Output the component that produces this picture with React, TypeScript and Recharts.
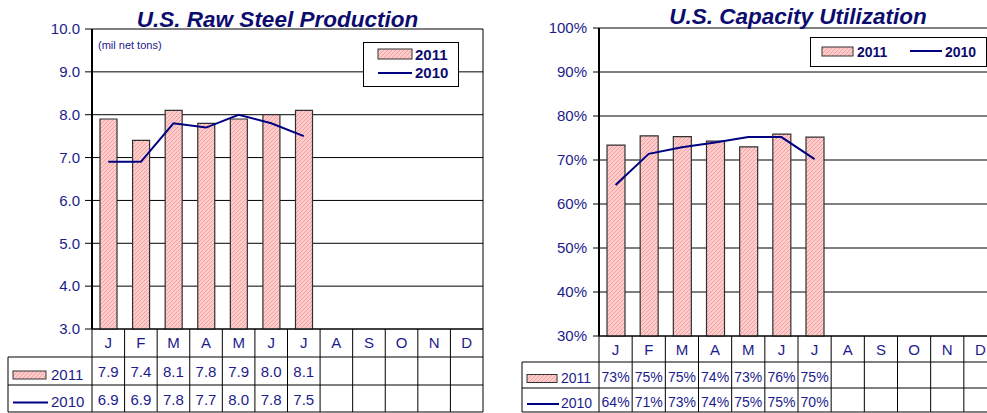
import React from 'react';
import { ComposedChart, Bar, Line, XAxis, YAxis, CartesianGrid, Legend } from 'recharts';

const months = ['J', 'F', 'M', 'A', 'M', 'J', 'J', 'A', 'S', 'O', 'N', 'D'];

const steel2011 = [7.9, 7.4, 8.1, 7.8, 7.9, 8.0, 8.1];
const steel2010 = [6.9, 6.9, 7.8, 7.7, 8.0, 7.8, 7.5];
const steelTicks = [3, 4, 5, 6, 7, 8, 9, 10];

const util2011 = [73.4, 75.5, 75.3, 74.3, 73.0, 75.9, 75.2];
const util2010 = [64.3, 71.4, 72.9, 74.0, 75.2, 75.2, 70.2];
const util2011Labels = ['73%', '75%', '75%', '74%', '73%', '76%', '75%'];
const util2010Labels = ['64%', '71%', '73%', '74%', '75%', '75%', '70%'];
const utilTicks = [30, 40, 50, 60, 70, 80, 90, 100];

const seriesNames = ['2011', '2010'];

const NAVY = '#1c1c8c';
const DARK_NAVY = '#0c0c6e';
const LINE = '#000080';
const FONT = 'Arial, "Liberation Sans", sans-serif';

const steelData = months.map((m, i) => ({
  idx: i,
  a: i < steel2011.length ? steel2011[i] : null,
  b: i < steel2010.length ? steel2010[i] : null,
}));
const utilData = months.map((m, i) => ({
  idx: i,
  a: i < util2011.length ? util2011[i] : null,
  b: i < util2010.length ? util2010[i] : null,
}));

type TableCfg = {
  colW: number;
  top: number;
  h: number[];
  legendLeft: number;
  row1: (string | null)[];
  row2: (string | null)[];
  textY: number[];
  legendY: number[];
  monthFont: number;
  valueFont: number;
  labelFont: number;
  swatch: { x: number; w: number; h: number; textX: number };
};

function makeTableTick(cfg: TableCfg) {
  return (props: any) => {
    const { x, payload } = props;
    const i = Number(payload.value);
    const w = cfg.colW;
    const x0 = x - w / 2;
    const x1 = x + w / 2;
    const t = cfg.top;
    const r1 = t + cfg.h[0];
    const r2 = r1 + cfg.h[1];
    const b = r2 + cfg.h[2];
    const ln = { stroke: '#000', strokeWidth: 1 };
    const txt = { fill: NAVY, fontFamily: FONT, textAnchor: 'middle' as const, dominantBaseline: 'central' as const };
    return (
      <g>
        {i === 0 && (
          <g>
            <line x1={cfg.legendLeft} x2={x0} y1={r1} y2={r1} {...ln} />
            <line x1={cfg.legendLeft} x2={x0} y1={r2} y2={r2} {...ln} />
            <line x1={cfg.legendLeft} x2={x0} y1={b} y2={b} {...ln} />
            <line x1={cfg.legendLeft} x2={cfg.legendLeft} y1={r1} y2={b} {...ln} />
            <rect
              x={cfg.legendLeft + cfg.swatch.x}
              y={cfg.legendY[0] - cfg.swatch.h / 2 + 1}
              width={cfg.swatch.w}
              height={cfg.swatch.h}
              fill="url(#pinkHatch)"
              stroke="#333"
              strokeWidth={1}
            />
            <text x={cfg.legendLeft + cfg.swatch.textX} y={cfg.legendY[0]} fill={NAVY} fontFamily={FONT} fontSize={cfg.labelFont} dominantBaseline="central">
              {seriesNames[0]}
            </text>
            <line
              x1={cfg.legendLeft + cfg.swatch.x}
              x2={cfg.legendLeft + cfg.swatch.x + cfg.swatch.w + 2}
              y1={cfg.legendY[1] + 1}
              y2={cfg.legendY[1] + 1}
              stroke={LINE}
              strokeWidth={2}
            />
            <text x={cfg.legendLeft + cfg.swatch.textX} y={cfg.legendY[1]} fill={NAVY} fontFamily={FONT} fontSize={cfg.labelFont} dominantBaseline="central">
              {seriesNames[1]}
            </text>
          </g>
        )}
        <line x1={x0} x2={x1} y1={r1} y2={r1} {...ln} />
        <line x1={x0} x2={x1} y1={r2} y2={r2} {...ln} />
        <line x1={x0} x2={x1} y1={b} y2={b} {...ln} />
        <line x1={x0} x2={x0} y1={t} y2={b} {...ln} />
        {i === months.length - 1 && <line x1={x1} x2={x1} y1={t} y2={b} {...ln} />}
        <text x={x} y={cfg.textY[0]} fontSize={cfg.monthFont} {...txt}>
          {months[i]}
        </text>
        {cfg.row1[i] != null && (
          <text x={x} y={cfg.textY[1]} fontSize={cfg.valueFont} {...txt}>
            {cfg.row1[i]}
          </text>
        )}
        {cfg.row2[i] != null && (
          <text x={x} y={cfg.textY[2]} fontSize={cfg.valueFont} {...txt}>
            {cfg.row2[i]}
          </text>
        )}
      </g>
    );
  };
}

const steelTick = makeTableTick({
  colW: 391 / 12,
  top: 329,
  h: [28, 28, 27],
  legendLeft: 8,
  row1: months.map((_, i) => (i < steel2011.length ? steel2011[i].toFixed(1) : null)),
  row2: months.map((_, i) => (i < steel2010.length ? steel2010[i].toFixed(1) : null)),
  textY: [342.5, 371.5, 399.5],
  legendY: [374, 401.5],
  monthFont: 15,
  valueFont: 15,
  labelFont: 15,
  swatch: { x: 5, w: 33, h: 8, textX: 43 },
});

const utilTick = makeTableTick({
  colW: 398 / 12,
  top: 336,
  h: [26, 26, 24],
  legendLeft: 32,
  row1: months.map((_, i) => (i < util2011Labels.length ? util2011Labels[i] : null)),
  row2: months.map((_, i) => (i < util2010Labels.length ? util2010Labels[i] : null)),
  textY: [349, 376.5, 402],
  legendY: [377.5, 403],
  monthFont: 15,
  valueFont: 14,
  labelFont: 14,
  swatch: { x: 5, w: 30, h: 8, textX: 39 },
});

const SteelLegend = () => (
  <svg width={96} height={45} style={{ display: 'block' }}>
    <rect x={0.5} y={0.5} width={95} height={44} fill="#fff" stroke="#000" strokeWidth={1} />
    <rect x={15} y={7} width={34} height={10} fill="url(#pinkHatch)" stroke="#333" strokeWidth={1} />
    <text x={52} y={18} fill={DARK_NAVY} fontFamily={FONT} fontWeight="bold" fontSize={15}>
      {seriesNames[0]}
    </text>
    <line x1={15} x2={49} y1={31} y2={31} stroke={LINE} strokeWidth={2} />
    <text x={52} y={35.5} fill={DARK_NAVY} fontFamily={FONT} fontWeight="bold" fontSize={15}>
      {seriesNames[1]}
    </text>
  </svg>
);

const UtilLegend = () => (
  <svg width={177} height={30} style={{ display: 'block' }}>
    <rect x={0.5} y={0.5} width={176} height={29} fill="#fff" stroke="#000" strokeWidth={1} />
    <rect x={12} y={10} width={31} height={9} fill="url(#pinkHatch)" stroke="#333" strokeWidth={1} />
    <text x={47} y={19.5} fill={DARK_NAVY} fontFamily={FONT} fontWeight="bold" fontSize={14}>
      {seriesNames[0]}
    </text>
    <line x1={100} x2={132} y1={14} y2={14} stroke={LINE} strokeWidth={2} />
    <text x={135} y={19.5} fill={DARK_NAVY} fontFamily={FONT} fontWeight="bold" fontSize={14}>
      {seriesNames[1]}
    </text>
  </svg>
);

export default function App() {
  return (
    <div style={{ position: 'absolute', left: 0, top: 0, width: 987, height: 413, overflow: 'hidden', background: '#fff' }}>
      <svg width={0} height={0} style={{ position: 'absolute' }}>
        <defs>
          <pattern id="pinkHatch" width={4} height={4} patternUnits="userSpaceOnUse">
            <rect x={0} y={0} width={4} height={4} fill="#ffcccc" />
            <rect x={0} y={0} width={1} height={1} fill="#f0a0a0" />
            <rect x={1} y={3} width={1} height={1} fill="#f0a0a0" />
            <rect x={2} y={2} width={1} height={1} fill="#f0a0a0" />
            <rect x={3} y={1} width={1} height={1} fill="#f0a0a0" />
          </pattern>
        </defs>
      </svg>

      <div style={{ position: 'absolute', left: 0, top: 0 }}>
        <ComposedChart width={487} height={413} data={steelData} margin={{ top: 29, right: 3, bottom: 0, left: 0 }}>
          <CartesianGrid vertical={false} stroke="#000" />
          <XAxis
            dataKey="idx"
            type="category"
            height={84}
            interval={0}
            tickLine={false}
            axisLine={{ stroke: '#000', strokeWidth: 1 }}
            tick={steelTick}
          />
          <YAxis
            width={92}
            domain={[3, 10]}
            ticks={steelTicks}
            interval={0}
            tickFormatter={(v: number) => v.toFixed(1)}
            tick={{ fill: NAVY, fontSize: 15, fontFamily: FONT }}
            tickSize={7}
            tickMargin={5}
            tickLine={{ stroke: '#000' }}
            axisLine={{ stroke: '#000', strokeWidth: 2 }}
          />
          <YAxis yAxisId="r" orientation="right" width={1} domain={[0, 1]} tick={false} tickLine={false} axisLine={{ stroke: '#000' }} />
          <Legend layout="horizontal" verticalAlign="middle" align="center" content={SteelLegend} wrapperStyle={{ position: 'absolute', left: 363, top: 42, width: 96, height: 45 }} />
          <Bar dataKey="a" fill="url(#pinkHatch)" stroke="#303030" strokeWidth={1.2} barSize={17} isAnimationActive={false} />
          <Line dataKey="b" type="linear" stroke={LINE} strokeWidth={2} dot={false} activeDot={false} isAnimationActive={false} />
        </ComposedChart>
      </div>

      <div style={{ position: 'absolute', left: 490, top: 0 }}>
        <ComposedChart width={510} height={413} data={utilData} margin={{ top: 28, right: 2, bottom: 0, left: 0 }}>
          <CartesianGrid vertical={false} stroke="#000" />
          <XAxis
            dataKey="idx"
            type="category"
            height={77}
            interval={0}
            tickLine={false}
            axisLine={{ stroke: '#000', strokeWidth: 1 }}
            tick={utilTick}
          />
          <YAxis
            width={109}
            domain={[30, 100]}
            ticks={utilTicks}
            interval={0}
            tickFormatter={(v: number) => `${v}%`}
            tick={{ fill: NAVY, fontSize: 15, fontFamily: FONT }}
            tickSize={6}
            tickMargin={6}
            tickLine={{ stroke: '#000' }}
            axisLine={{ stroke: '#000', strokeWidth: 2 }}
          />
          <YAxis yAxisId="r" orientation="right" width={1} domain={[0, 1]} tick={false} tickLine={false} axisLine={{ stroke: '#000' }} />
          <Legend layout="horizontal" verticalAlign="middle" align="center" content={UtilLegend} wrapperStyle={{ position: 'absolute', left: 320, top: 37, width: 177, height: 30 }} />
          <Bar dataKey="a" fill="url(#pinkHatch)" stroke="#303030" strokeWidth={1.2} barSize={18} isAnimationActive={false} />
          <Line dataKey="b" type="linear" stroke={LINE} strokeWidth={2} dot={false} activeDot={false} isAnimationActive={false} />
        </ComposedChart>
      </div>

      <svg width={987} height={413} style={{ position: 'absolute', left: 0, top: 0, pointerEvents: 'none' }}>
        <text x={277.5} y={26.5} textAnchor="middle" fill={DARK_NAVY} fontFamily={FONT} fontWeight="bold" fontStyle="italic" fontSize={22.5}>
          U.S. Raw Steel Production
        </text>
        <text x={798} y={23.5} textAnchor="middle" fill={DARK_NAVY} fontFamily={FONT} fontWeight="bold" fontStyle="italic" fontSize={22.5}>
          U.S. Capacity Utilization
        </text>
        <text x={98} y={48.5} fill={NAVY} fontFamily={FONT} fontSize={11}>
          (mil net tons)
        </text>
      </svg>
    </div>
  );
}
